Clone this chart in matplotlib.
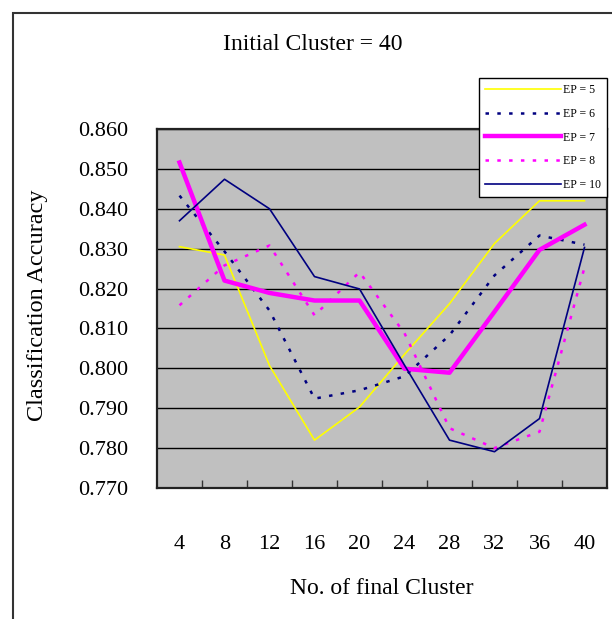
import matplotlib
matplotlib.use("Agg")
import matplotlib.pyplot as plt
from matplotlib.patches import Rectangle

plt.rcParams['font.family'] = ['Liberation Serif', 'DejaVu Serif']
plt.rcParams['lines.scale_dashes'] = False

clusters = ['4', '8', '12', '16', '20', '24', '28', '32', '36', '40']
ep5 = [0.8305, 0.8284, 0.8007, 0.7820, 0.7903, 0.8035, 0.8162, 0.8313, 0.8420, 0.8420]
ep6 = [0.8433, 0.8293, 0.8145, 0.7924, 0.7945, 0.7980, 0.8083, 0.8233, 0.8333, 0.8310]
ep7 = [0.8516, 0.8220, 0.8189, 0.8170, 0.8170, 0.7999, 0.7989, 0.8142, 0.8297, 0.8360]
ep8 = [0.8158, 0.8258, 0.8308, 0.8133, 0.8241, 0.8088, 0.7850, 0.7800, 0.7841, 0.8253]
ep10 = [0.8370, 0.8474, 0.8400, 0.8230, 0.8199, 0.8008, 0.7820, 0.7791, 0.7874, 0.8303]
yticks = [0.770, 0.780, 0.790, 0.800, 0.810, 0.820, 0.830, 0.840, 0.850, 0.860]

W, H = 612, 619
fig = plt.figure(figsize=(W / 100, H / 100), dpi=100)

# outer chart frame (only left and top edges visible)
fig.add_artist(Rectangle((13 / W, -0.1), 1.2, 1.1 - 13 / H, transform=fig.transFigure,
                         fill=False, edgecolor='#333333', linewidth=1.5))

ax = fig.add_axes([157 / W, 1 - 488 / H, 450 / W, 359 / H])
ax.set_facecolor('#c0c0c0')

x = range(len(clusters))
ax.plot(x, ep5, color='#ffff00', lw=1.2, label='EP = 5')
l6, = ax.plot(x, ep6, color='#000080', lw=1.8, ls='--', label='EP = 6')
l6.set_dashes([2.5, 6])
ax.plot(x, ep7, color='#ff00ff', lw=3.2, label='EP = 7')
l8, = ax.plot(x, ep8, color='#ff00ff', lw=1.8, ls='--', label='EP = 8')
l8.set_dashes([2.5, 6])
ax.plot(x, ep10, color='#000080', lw=1.2, label='EP = 10')

ax.set_xlim(-0.5, len(clusters) - 0.5)
ax.set_ylim(0.770, 0.860)
ax.set_yticks(yticks)
ax.set_yticklabels([f'{v:.3f}' for v in yticks])
ax.yaxis.grid(True, color='black', lw=1)
ax.set_axisbelow(True)
ax.tick_params(axis='y', length=0, pad=21, labelsize=16)

ax.set_xticks(list(x))
ax.set_xticklabels(clusters)
ax.set_xticks([i + 0.5 for i in range(len(clusters) - 1)], minor=True)
ax.tick_params(axis='x', which='major', length=0, pad=34, labelsize=16)
ax.tick_params(axis='x', which='minor', direction='in', length=6, width=1, color='#333333')

for s in ax.spines.values():
    s.set_linewidth(1.6)
    s.set_color('#222222')

fig.text(313 / W, 1 - 45 / H, 'Initial Cluster = 40', ha='center', va='center', fontsize=17)
fig.text(382 / W, 1 - 588 / H, 'No. of final Cluster', ha='center', va='center', fontsize=17)
fig.text(38 / W, 1 - 305 / H, 'Classification Accuracy', ha='center', va='center',
         rotation=90, fontsize=17.5)

leg = ax.legend(loc='upper right', bbox_to_anchor=(607 / W, 1 - 78 / H),
                bbox_transform=fig.transFigure, fontsize=8.5, frameon=True,
                fancybox=False, framealpha=1, edgecolor='black', handlelength=6.4,
                handletextpad=0.2, labelspacing=1.0, borderpad=0.5, borderaxespad=0)
leg.get_frame().set_linewidth(1.0)

fig.savefig('out.png', dpi=100)
